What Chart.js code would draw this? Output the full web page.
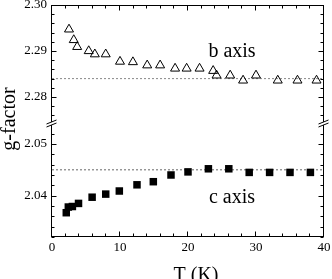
<!DOCTYPE html>
<html>
<head>
<meta charset="utf-8">
<script src="https://cdn.jsdelivr.net/npm/chart.js@4/dist/chart.umd.min.js"></script>
<style>
  html, body { margin: 0; padding: 0; background: #fff; }
  #wrap { width: 332px; height: 279px; }
</style>
</head>
<body>
<div id="wrap"><canvas id="gchart" width="332" height="279"></canvas></div>
<script>
// b axis (upper panel, open triangles)
const bTemps  = [2.5, 3.2, 3.7, 5.4, 6.3, 7.9, 10, 11.9, 14, 15.9, 18.1, 19.8, 21.7, 23.7, 24.2, 26.2, 28.1, 30, 33.2, 36.1, 38.9];
const bValues = [2.2947, 2.2924, 2.2909, 2.2900, 2.2893, 2.2893, 2.2877, 2.2876, 2.2869, 2.2869, 2.2862, 2.2862, 2.2862, 2.2857, 2.2847, 2.2847, 2.2836, 2.2847, 2.2836, 2.2836, 2.2836];
// c axis (lower panel, filled squares)
const cTemps  = [2.1, 2.4, 3.0, 3.9, 5.9, 7.9, 9.9, 12.5, 14.9, 17.5, 20, 23, 26, 29, 32, 35, 38];
const cValues = [2.0367, 2.0378, 2.0379, 2.0385, 2.0397, 2.0403, 2.0409, 2.0421, 2.0427, 2.0440, 2.0446, 2.0452, 2.0452, 2.0445, 2.0445, 2.0445, 2.0445];
// dotted reference levels
const bRef = 2.284;
const cRef = 2.045;

// tick labels
const xTickLabels = [0, 10, 20, 30, 40];
const upperTickLabels = [2.28, 2.29, 2.30];
const lowerTickLabels = [2.04, 2.05];

const FONT = "'Liberation Serif', 'Times New Roman', serif";

function isIn(list, v) {
    return list.some(t => Math.abs(t - v) < 1e-6);
}

function toPoints(xs, ys) {
    return xs.map((x, i) => ({ x: x, y: ys[i] }));
}

// no automatic label overflow padding, fixed axis sizes
function fixY(s) {
    s.width = 52;
    s.paddingTop = 0; s.paddingBottom = 0; s.paddingLeft = 0; s.paddingRight = 0;
}
function fixX(s) {
    s.height = 42;
    s.paddingTop = 0; s.paddingBottom = 0; s.paddingLeft = 0; s.paddingRight = 0;
}

// frame, inward ticks, axis breaks and the free text
const framePlugin = {
    id: "frame",
    afterDatasetsDraw(chart) {
        const { ctx, chartArea: a, scales } = chart;
        const L = Math.round(a.left) - 0.5, R = Math.round(a.right) - 0.5;
        const T = Math.round(a.top) + 0.5, B = Math.round(a.bottom) - 0.5;
        ctx.save();
        ctx.strokeStyle = "#000";
        ctx.lineWidth = 1;
        ctx.strokeRect(L, T, R - L, B - T);

        // x ticks, bottom and top
        ctx.beginPath();
        scales.x.ticks.forEach(t => {
            const px = Math.round(scales.x.getPixelForValue(t.value)) - 0.5;
            const len = isIn(xTickLabels, t.value) ? 5 : 3;
            ctx.moveTo(px, B); ctx.lineTo(px, B - len);
            ctx.moveTo(px, T); ctx.lineTo(px, T + len);
        });
        // y ticks, left and right
        [["y", upperTickLabels], ["y2", lowerTickLabels]].forEach(([id, majors]) => {
            const s = scales[id];
            s.ticks.forEach(t => {
                const py = Math.round(s.getPixelForValue(t.value)) + 0.5;
                const len = isIn(majors, t.value) ? 5 : 3;
                ctx.moveTo(L, py); ctx.lineTo(L + len, py);
                ctx.moveTo(R, py); ctx.lineTo(R - len, py);
            });
        });
        ctx.stroke();

        // axis breaks
        const by = scales.y.bottom;
        [L, R].forEach(x => {
            ctx.fillStyle = "#fff";
            ctx.beginPath();
            ctx.moveTo(x - 5, by + 1);
            ctx.lineTo(x + 5, by - 3);
            ctx.lineTo(x + 5, by);
            ctx.lineTo(x - 5, by + 4);
            ctx.closePath();
            ctx.fill();
            ctx.beginPath();
            ctx.moveTo(x - 5, by + 1); ctx.lineTo(x + 5, by - 3);
            ctx.moveTo(x - 5, by + 4); ctx.lineTo(x + 5, by);
            ctx.stroke();
        });

        // texts
        ctx.fillStyle = "#000";
        ctx.font = "20px " + FONT;
        ctx.textAlign = "center";
        ctx.textBaseline = "alphabetic";
        ctx.fillText("b axis", 232, 57);
        ctx.fillText("c axis", 232, 203);
        ctx.fillText("T (K)", 196, 281);
        ctx.translate(15, 119);
        ctx.rotate(-Math.PI / 2);
        ctx.fillText("g-factor", 0, 0);
        ctx.restore();
    }
};

const tickFont = { family: FONT, size: 13 };
const noGrid = { display: false, drawTicks: false };

new Chart(document.getElementById("gchart"), {
    type: "scatter",
    data: {
        datasets: [
            {
                label: "b axis",
                data: toPoints(bTemps, bValues),
                yAxisID: "y",
                pointStyle: "triangle",
                pointRadius: 5.2,
                borderColor: "#000",
                backgroundColor: "rgba(255,255,255,0)",
                borderWidth: 1,
                order: 0
            },
            {
                label: "c axis",
                data: toPoints(cTemps, cValues),
                yAxisID: "y2",
                pointStyle: "rect",
                pointRadius: 5.3,
                borderColor: "#000",
                backgroundColor: "#000",
                borderWidth: 0,
                order: 0
            },
            {
                type: "line",
                data: [{ x: 0, y: bRef }, { x: 40, y: bRef }],
                yAxisID: "y",
                borderColor: "#888",
                borderWidth: 1,
                borderDash: [2, 2],
                pointRadius: 0,
                order: 1
            },
            {
                type: "line",
                data: [{ x: 0, y: cRef }, { x: 40, y: cRef }],
                yAxisID: "y2",
                borderColor: "#666",
                borderWidth: 1,
                borderDash: [2, 2],
                pointRadius: 0,
                order: 1
            }
        ]
    },
    options: {
        responsive: false,
        animation: false,
        devicePixelRatio: 1,
        layout: { padding: { left: 0, right: 8, top: 5, bottom: 0 }, autoPadding: false },
        plugins: { legend: { display: false }, tooltip: { enabled: false } },
        scales: {
            x: {
                type: "linear",
                min: 0,
                max: 40,
                grid: noGrid,
                border: { display: false },
                ticks: {
                    stepSize: 2,
                    autoSkip: false,
                    maxRotation: 0,
                    padding: 3,
                    color: "#000",
                    font: tickFont,
                    callback: v => isIn(xTickLabels, v) ? String(v) : ""
                },
                afterFit: fixX
            },
            // lower panel (defined first: left stacks are placed in reverse order)
            y2: {
                type: "linear",
                position: "left",
                stack: "g",
                stackWeight: 114,
                min: 2.0320,
                max: 2.05406,
                grid: noGrid,
                border: { display: false },
                ticks: {
                    stepSize: 0.002,
                    includeBounds: false,
                    autoSkip: false,
                    padding: 5,
                    color: "#000",
                    font: tickFont,
                    callback: v => isIn(lowerTickLabels, v) ? v.toFixed(2) : ""
                },
                afterFit: fixY
            },
            // upper panel
            y: {
                type: "linear",
                position: "left",
                stack: "g",
                stackWeight: 118,
                min: 2.27435,
                max: 2.30,
                grid: noGrid,
                border: { display: false },
                ticks: {
                    stepSize: 0.002,
                    includeBounds: false,
                    autoSkip: false,
                    padding: 5,
                    color: "#000",
                    font: tickFont,
                    callback: v => isIn(upperTickLabels, v) ? v.toFixed(2) : ""
                },
                afterFit: fixY
            }
        }
    },
    plugins: [framePlugin]
});
</script>
</body>
</html>
